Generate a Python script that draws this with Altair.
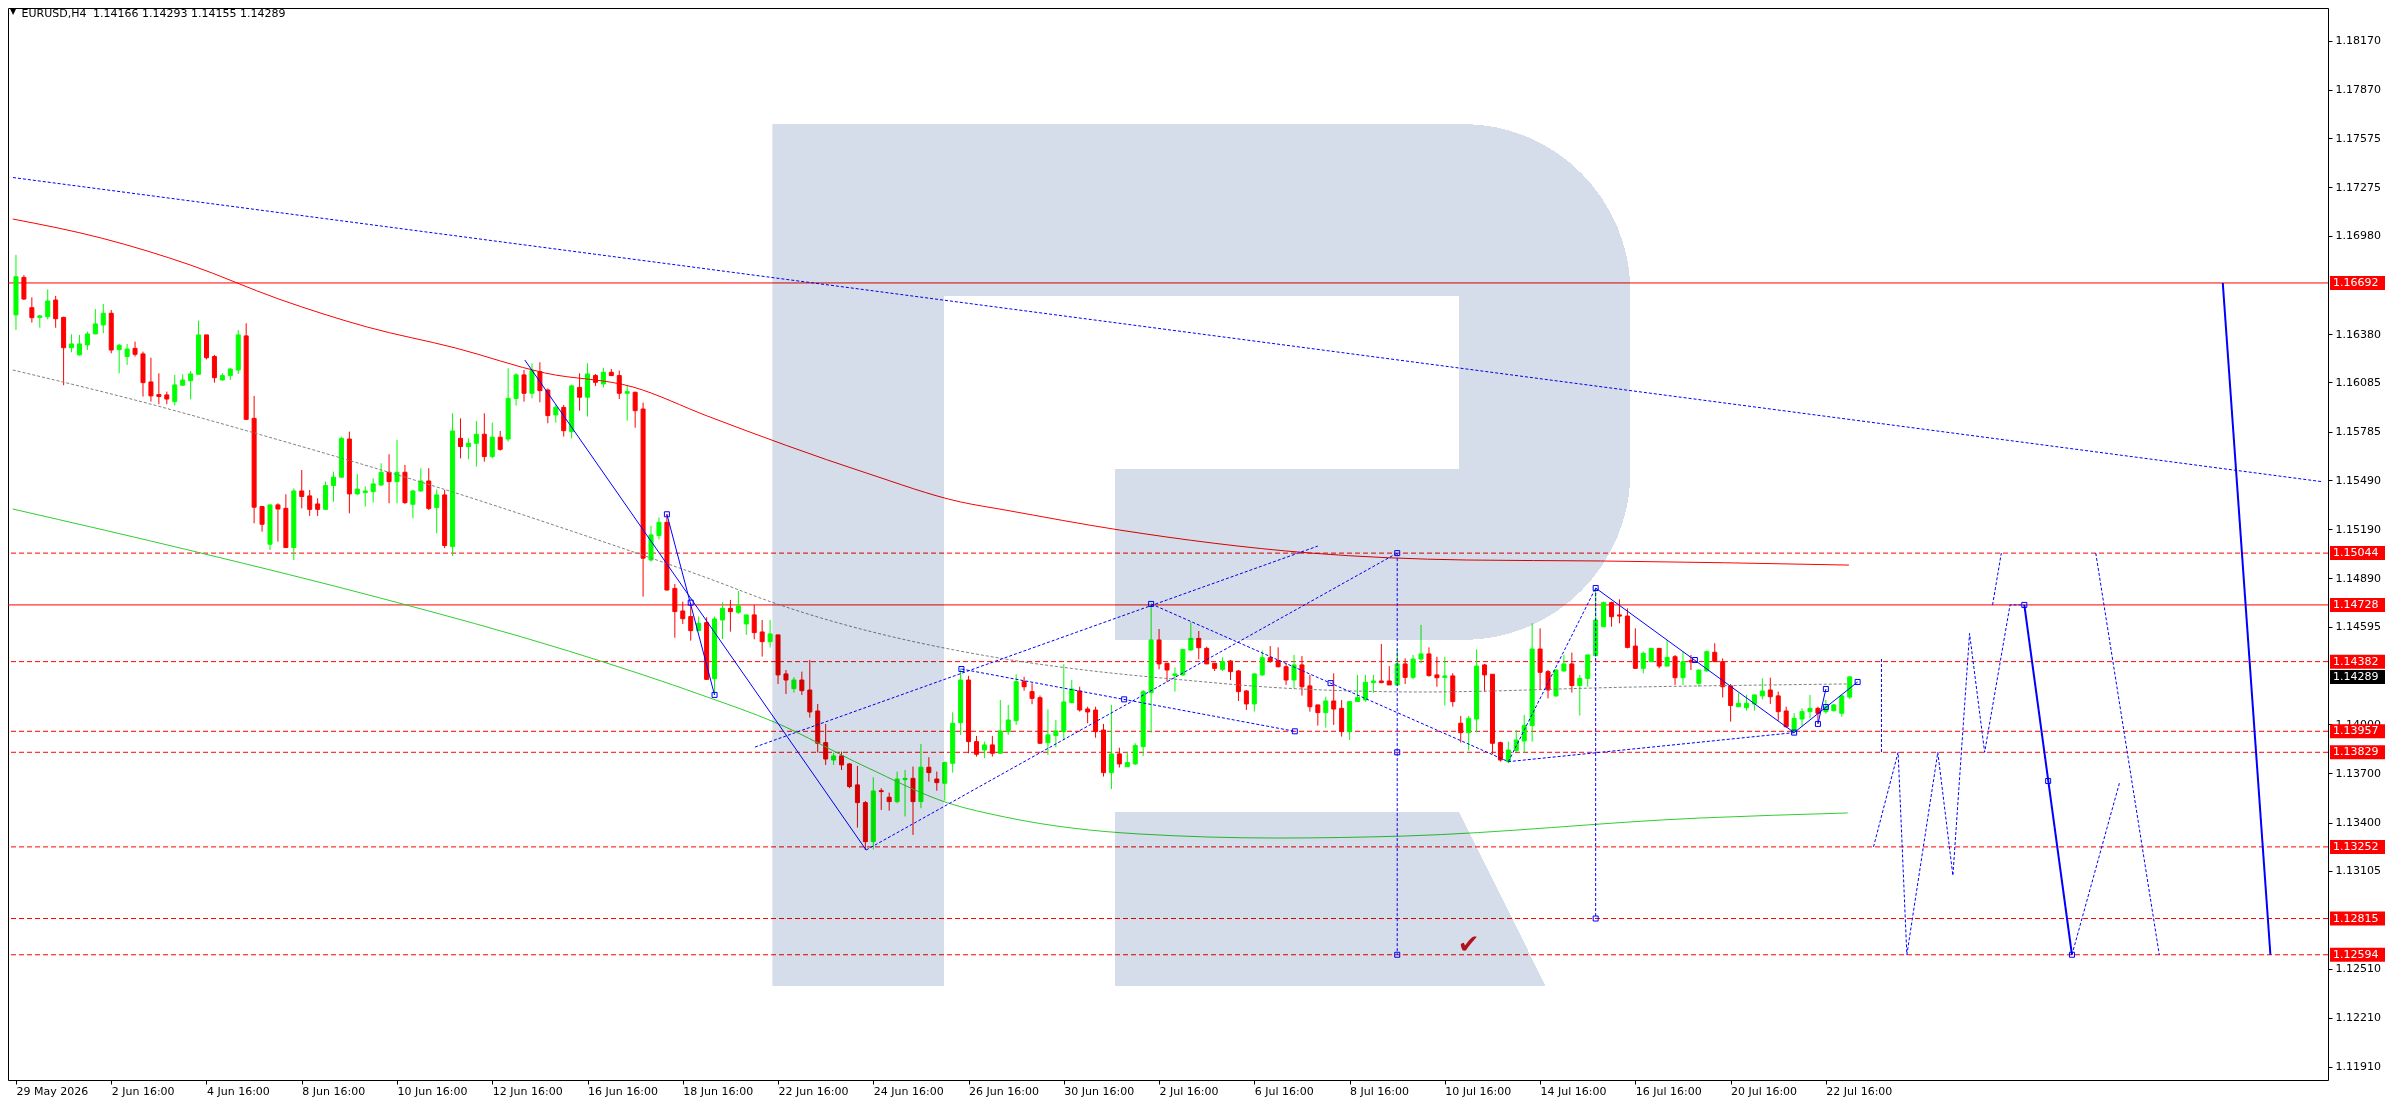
import base64
import altair as alt
import pandas as pd

# ---------------------------------------------------------------- data
opens = [
 1.16497,1.16726,1.16541,1.16482,1.16486,1.16588,1.16482,1.16297,1.16253,1.16314,
 1.16381,1.16436,1.16507,1.16285,1.16243,1.16293,1.16259,1.16088,1.16011,1.16009,
 1.15968,1.16068,1.16096,1.16135,1.16375,1.16243,1.16100,1.16127,1.16161,1.16369,
 1.15866,1.15328,1.15098,1.15338,1.15317,1.15078,1.15423,1.15393,1.15344,1.15311,
 1.15456,1.15507,1.15740,1.15405,1.15413,1.15419,1.15460,1.15537,1.15480,1.15537,
 1.15342,1.15423,1.15484,1.15322,1.15399,1.15084,1.15744,1.15694,1.15714,1.15769,
 1.15633,1.15751,1.15740,1.15988,1.16131,1.16019,1.16151,1.16039,1.15887,1.15933,
 1.15785,1.16055,1.15995,1.16127,1.16076,1.16147,1.16127,1.16019,1.16025,1.15923,
 1.15002,1.15151,1.15232,1.14829,1.14691,1.14657,1.14571,1.14620,1.14278,1.14636,
 1.14707,1.14683,1.14612,1.14667,1.14563,1.14504,1.14545,1.14307,1.14217,1.14270,
 1.14209,1.14081,1.13888,1.13782,1.13807,1.13758,1.13630,1.13522,1.13284,1.13595,
 1.13555,1.13528,1.13662,1.13670,1.13528,1.13738,1.13666,1.13640,1.13762,1.14010,
 1.14270,1.13894,1.13843,1.13874,1.13823,1.13955,1.14022,1.14260,1.14199,1.14162,
 1.13888,1.13931,1.13955,1.14132,1.14203,1.14093,1.14087,1.13965,1.13705,1.13819,
 1.13741,1.13758,1.13864,1.14193,1.14514,1.14372,1.14297,1.14301,1.14453,1.14524,
 1.14463,1.14372,1.14335,1.14386,1.14325,1.14203,1.14124,1.14301,1.14406,1.14388,
 1.14351,1.14270,1.14362,1.14234,1.14118,1.14071,1.14142,1.14097,1.13955,1.14138,
 1.14148,1.14254,1.14264,1.14264,1.14240,1.14368,1.14286,1.14398,1.14429,1.14301,
 1.14286,1.14295,1.14006,1.13949,1.14032,1.14362,1.14305,1.13888,1.13772,1.13839,
 1.13898,1.13992,1.14459,1.14321,1.14173,1.14325,1.14368,1.14236,1.14280,1.14419,
 1.14595,1.14742,1.14667,1.14660,1.14477,1.14341,1.14382,1.14463,1.14355,1.14412,
 1.14284,1.14388,1.14250,1.14325,1.14439,1.14382,1.14234,1.14107,1.14101,1.14124,
 1.14173,1.14209,1.14173,1.14081,1.13955,1.14032,1.14077,1.14097,1.14077,1.14083,
 1.14067,1.14166]
highs = [
 1.16863,1.16740,1.16604,1.16497,1.16653,1.16613,1.16486,1.16379,1.16375,1.16395,
 1.16533,1.16564,1.16527,1.16320,1.16320,1.16334,1.16273,1.16236,1.16141,1.16029,
 1.16131,1.16135,1.16155,1.16462,1.16375,1.16253,1.16141,1.16175,1.16405,1.16446,
 1.16003,1.15332,1.15338,1.15348,1.15403,1.15439,1.15551,1.15429,1.15378,1.15480,
 1.15541,1.15754,1.15785,1.15527,1.15450,1.15500,1.15592,1.15647,1.15734,1.15582,
 1.15429,1.15562,1.15562,1.15433,1.15429,1.15897,1.15866,1.15744,1.15850,1.15897,
 1.15840,1.15789,1.16171,1.16141,1.16161,1.16202,1.16208,1.16049,1.15948,1.15948,
 1.16070,1.16141,1.16202,1.16137,1.16175,1.16167,1.16157,1.16070,1.16029,1.15962,
 1.15210,1.15262,1.15281,1.14856,1.14748,1.14742,1.14657,1.14653,1.14657,1.14744,
 1.14758,1.14813,1.14667,1.14728,1.14636,1.14636,1.14545,1.14331,1.14287,1.14321,
 1.14392,1.14124,1.14002,1.13827,1.13833,1.13762,1.13746,1.13532,1.13677,1.13610,
 1.13583,1.13711,1.13721,1.13742,1.13880,1.13799,1.13711,1.13772,1.14073,1.14341,
 1.14295,1.13929,1.13894,1.13929,1.14148,1.14118,1.14305,1.14290,1.14250,1.14175,
 1.14091,1.14026,1.14366,1.14270,1.14229,1.14107,1.14107,1.14002,1.14118,1.13857,
 1.13829,1.13884,1.14209,1.14734,1.14581,1.14372,1.14347,1.14457,1.14622,1.14569,
 1.14473,1.14372,1.14408,1.14392,1.14331,1.14209,1.14311,1.14449,1.14477,1.14469,
 1.14372,1.14423,1.14416,1.14301,1.14118,1.14168,1.14311,1.14148,1.14142,1.14301,
 1.14301,1.14301,1.14490,1.14355,1.14457,1.14402,1.14423,1.14606,1.14469,1.14412,
 1.14412,1.14311,1.14051,1.14051,1.14457,1.14368,1.14305,1.13894,1.13894,1.13965,
 1.14057,1.14616,1.14585,1.14331,1.14335,1.14423,1.14437,1.14301,1.14423,1.14829,
 1.14748,1.14748,1.14762,1.14707,1.14585,1.14443,1.14463,1.14463,1.14514,1.14423,
 1.14443,1.14423,1.14331,1.14449,1.14494,1.14402,1.14246,1.14189,1.14179,1.14179,
 1.14280,1.14284,1.14199,1.14107,1.14067,1.14097,1.14179,1.14107,1.14148,1.14124,
 1.14179,1.14293]
lows = [
 1.16405,1.16588,1.16450,1.16419,1.16470,1.16419,1.16068,1.16269,1.16249,1.16283,
 1.16381,1.16385,1.16263,1.16141,1.16192,1.16243,1.15999,1.15968,1.15952,1.15952,
 1.15944,1.16066,1.15982,1.16135,1.16226,1.16084,1.16098,1.16100,1.16137,1.15856,
 1.15226,1.15175,1.15063,1.15114,1.15078,1.15002,1.15317,1.15271,1.15271,1.15307,
 1.15358,1.15505,1.15287,1.15399,1.15328,1.15352,1.15454,1.15348,1.15348,1.15344,
 1.15257,1.15419,1.15307,1.15165,1.15074,1.15027,1.15622,1.15616,1.15572,1.15602,
 1.15622,1.15669,1.15724,1.15944,1.15968,1.15988,1.15964,1.15836,1.15840,1.15755,
 1.15744,1.15913,1.15877,1.16064,1.16055,1.16125,1.15984,1.15852,1.15809,1.14779,
 1.14992,1.15128,1.14815,1.14528,1.14612,1.14510,1.14571,1.14270,1.14179,1.14520,
 1.14565,1.14673,1.14545,1.14518,1.14413,1.14468,1.14246,1.14185,1.14193,1.14179,
 1.14041,1.13827,1.13752,1.13752,1.13721,1.13610,1.13370,1.13233,1.13237,1.13477,
 1.13473,1.13518,1.13437,1.13325,1.13488,1.13650,1.13595,1.13534,1.13705,1.13935,
 1.13823,1.13803,1.13793,1.13803,1.13823,1.13935,1.13996,1.14205,1.14122,1.13880,
 1.13813,1.13860,1.13904,1.14128,1.14077,1.14006,1.13918,1.13681,1.13605,1.13736,
 1.13741,1.13752,1.13807,1.13949,1.14335,1.14260,1.14199,1.14295,1.14449,1.14396,
 1.14368,1.14325,1.14325,1.14270,1.14142,1.14087,1.14077,1.14295,1.14376,1.14347,
 1.14240,1.14219,1.14175,1.14077,1.13992,1.13979,1.13996,1.13925,1.13904,1.14138,
 1.14138,1.14193,1.14250,1.14240,1.14234,1.14246,1.14274,1.14372,1.14290,1.14229,
 1.14114,1.14107,1.13888,1.13839,1.13951,1.14199,1.13819,1.13772,1.13762,1.13833,
 1.13827,1.13894,1.14209,1.14158,1.14168,1.14321,1.14193,1.14053,1.14229,1.14412,
 1.14595,1.14595,1.14616,1.14463,1.14341,1.14311,1.14382,1.14341,1.14355,1.14240,
 1.14240,1.14331,1.14229,1.14321,1.14382,1.14164,1.14016,1.14107,1.14083,1.14083,
 1.14152,1.14124,1.14022,1.13979,1.13949,1.13985,1.14036,1.14006,1.14063,1.14077,
 1.14046,1.14155]
closes = [
 1.16730,1.16594,1.16480,1.16491,1.16582,1.16474,1.16297,1.16320,1.16320,1.16381,
 1.16442,1.16507,1.16283,1.16312,1.16289,1.16257,1.16084,1.16003,1.15999,1.15984,
 1.16070,1.16100,1.16137,1.16375,1.16236,1.16114,1.16127,1.16167,1.16375,1.15860,
 1.15324,1.15220,1.15338,1.15313,1.15078,1.15423,1.15389,1.15311,1.15311,1.15456,
 1.15507,1.15744,1.15405,1.15435,1.15423,1.15466,1.15537,1.15480,1.15537,1.15352,
 1.15423,1.15484,1.15317,1.15399,1.15090,1.15789,1.15694,1.15714,1.15769,1.15633,
 1.15751,1.15677,1.15988,1.16131,1.16019,1.16157,1.16035,1.15883,1.15933,1.15791,
 1.16064,1.15995,1.16137,1.16086,1.16147,1.16127,1.16019,1.16029,1.15913,1.15013,
 1.15155,1.15232,1.14819,1.14687,1.14644,1.14571,1.14616,1.14274,1.14642,1.14707,
 1.14687,1.14722,1.14667,1.14559,1.14504,1.14551,1.14301,1.14270,1.14270,1.14205,
 1.14075,1.13884,1.13788,1.13807,1.13752,1.13620,1.13522,1.13284,1.13593,1.13589,
 1.13528,1.13666,1.13670,1.13528,1.13738,1.13705,1.13644,1.13766,1.14006,1.14270,
 1.13894,1.13817,1.13874,1.13823,1.13959,1.14026,1.14260,1.14229,1.14158,1.13884,
 1.13935,1.13959,1.14136,1.14215,1.14087,1.14075,1.13955,1.13705,1.13819,1.13758,
 1.13766,1.13870,1.14199,1.14514,1.14368,1.14331,1.14307,1.14457,1.14524,1.14467,
 1.14368,1.14341,1.14382,1.14321,1.14199,1.14124,1.14307,1.14406,1.14382,1.14351,
 1.14270,1.14362,1.14229,1.14107,1.14071,1.14142,1.14093,1.13955,1.14138,1.14164,
 1.14256,1.14264,1.14254,1.14240,1.14368,1.14286,1.14398,1.14429,1.14297,1.14284,
 1.14295,1.14138,1.13949,1.14036,1.14355,1.14301,1.13884,1.13782,1.13843,1.13904,
 1.13992,1.14459,1.14317,1.14209,1.14331,1.14368,1.14236,1.14280,1.14423,1.14636,
 1.14742,1.14656,1.14660,1.14469,1.14341,1.14433,1.14463,1.14355,1.14408,1.14284,
 1.14382,1.14380,1.14331,1.14443,1.14382,1.14229,1.14114,1.14128,1.14128,1.14179,
 1.14203,1.14168,1.14077,1.13985,1.14036,1.14077,1.14097,1.14067,1.14107,1.14118,
 1.14173,1.14289]

x_tick_bars = [0, 12, 24, 36, 48, 60, 72, 84, 96, 108, 120, 132, 144, 156, 168, 180, 192, 204, 216, 228]
x_tick_labels = ["29 May 2026", "2 Jun 16:00", "4 Jun 16:00", "8 Jun 16:00", "10 Jun 16:00",
                 "12 Jun 16:00", "16 Jun 16:00", "18 Jun 16:00", "22 Jun 16:00", "24 Jun 16:00",
                 "26 Jun 16:00", "30 Jun 16:00", "2 Jul 16:00", "6 Jul 16:00", "8 Jul 16:00",
                 "10 Jul 16:00", "14 Jul 16:00", "16 Jul 16:00", "20 Jul 16:00", "22 Jul 16:00"]
y_ticks = [1.18170, 1.17870, 1.17575, 1.17275, 1.16980, 1.16380, 1.16085, 1.15785, 1.15490,
           1.15190, 1.14890, 1.14595, 1.14000, 1.13700, 1.13400, 1.13105, 1.12510, 1.12210, 1.11910]

red_ma_bar = [-0.4, 10.75, 22, 33.1, 44.25, 55.4, 66.6, 77.75, 87.1, 107.1, 119, 124.6, 139, 162.9, 182.75, 199.6, 230.9]
red_ma_val = [1.17082, 1.16966, 1.16801, 1.16594, 1.16423, 1.16295, 1.16143, 1.16057, 1.15880,
              1.15533, 1.15356, 1.15307, 1.15185, 1.15045, 1.15002, 1.14996, 1.14971]
green_ma_bar = [-0.4, 22.75, 45.9, 69.6, 87.1, 95.5, 107.1, 117.4, 124.6, 141.4, 158.9, 174.75, 212.1, 230.75]
green_ma_val = [1.15313, 1.15051, 1.14770, 1.14447, 1.14166, 1.14014, 1.13739, 1.13520, 1.13434,
                1.13331, 1.13306, 1.13318, 1.13428, 1.13459]
gray_ma_bar = [-0.4, 16.4, 30.9, 55.4, 69.6, 87.1, 95.5, 124.6, 134.6, 147.1, 159.6, 177.1, 203.75, 230.9]
gray_ma_val = [1.16161, 1.15960, 1.15765, 1.15411, 1.15185, 1.14892, 1.14740, 1.14398, 1.14331,
               1.14270, 1.14221, 1.14197, 1.14227, 1.14246]
trend_bar = [-0.375, 290.625]
trend_val = [1.17335, 1.15479]

solid_levels = [1.16692, 1.14728]
dash_levels = [1.15044, 1.14382, 1.13957, 1.13829, 1.13252, 1.12815, 1.12594]

solid_thin = [
    [(64.1, 1.16222), (107.1, 1.13233)],
    [(82, 1.15281), (88, 1.14179)],
    [(199, 1.14831), (224, 1.13949), (232, 1.14258)],
    [(227, 1.14002), (228, 1.14215)],
]
solid_thick = [
    [(253, 1.14728), (259, 1.12594)],
    [(278, 1.16692), (284, 1.12594)],
]
dotted = [
    [(93.1, 1.13861), (164, 1.15087)],
    [(107.1, 1.13233), (174, 1.15044)],
    [(119.1, 1.14337), (161.1, 1.13957)],
    [(143, 1.14734), (188, 1.13772), (224, 1.13949)],
    [(188, 1.13772), (199, 1.14831)],
    [(174, 1.15044), (174, 1.12594)],
    [(199, 1.14831), (199, 1.12815)],
    [(234, 1.13252), (237.1, 1.13829), (238.2, 1.12594), (242.1, 1.13829), (244, 1.13077),
     (246.1, 1.14554), (248, 1.13829), (251.2, 1.14728), (253, 1.14728)],
    [(249, 1.14728), (250.1, 1.15044)],
    [(235, 1.14398), (235, 1.13829)],
    [(259, 1.12594), (265, 1.13645)],
    [(262, 1.15044), (270, 1.12594)],
]
sq_bar = [82, 85, 88, 119.1, 139.6, 143, 161.1, 165.6, 174, 174, 174, 199, 199, 211.5,
          224, 227, 228, 228, 232, 253, 256, 259]
sq_val = [1.15281, 1.14742, 1.14179, 1.14337, 1.14152, 1.14734, 1.13957, 1.14251, 1.15044,
          1.13829, 1.12594, 1.14831, 1.12815, 1.14392, 1.13949, 1.14002, 1.14215, 1.14105,
          1.14258, 1.14728, 1.13654, 1.12594]

box_vals = [1.16692, 1.15044, 1.14728, 1.14382, 1.14289, 1.13957, 1.13829, 1.13252, 1.12815, 1.12594]
box_cols = ["#ff0000", "#ff0000", "#ff0000", "#ff0000", "#000000",
            "#ff0000", "#ff0000", "#ff0000", "#ff0000", "#ff0000"]

header_sym = "EURUSD,H4"
header_ohlc = "1.14166 1.14293 1.14155 1.14289"

# ---------------------------------------------------------------- layout / style
W, H = 2320, 1072
X_DOM = [-0.375, 290.625]
Y_DOM = [1.11830, 1.183692]
FONT = "DejaVu Sans"
GREEN, RED, BLUE = "#00ff00", "#ff0000", "#0000ff"
LOGO = "#d4dde9"

label_expr = "[" + ",".join("'%s'" % t for t in x_tick_labels) + "][round(datum.value/12)]"
XS = alt.Scale(domain=X_DOM, nice=False, zero=False)
YS = alt.Scale(domain=Y_DOM, nice=False, zero=False)
XAX = alt.Axis(values=x_tick_bars, labelExpr=label_expr, orient="bottom", tickSize=4,
               domain=False, grid=False, labelAlign="left", labelFont=FONT, labelFontSize=11,
               labelColor="black", tickColor="black", labelPadding=1, labelOverlap=False,
               labelFlush=False, title=None)
YAX = alt.Axis(values=y_ticks, format=".5f", orient="right", tickSize=4, domain=False,
               grid=False, labelFont=FONT, labelFontSize=11, labelColor="black",
               tickColor="black", labelPadding=3, labelOverlap=False, labelFlush=False, title=None)


def X(f="bar"):
    return alt.X(f + ":Q", scale=XS, axis=XAX)


def Y(f="price"):
    return alt.Y(f + ":Q", scale=YS, axis=YAX)


def seg_df(segs):
    rows = []
    for si, seg in enumerate(segs):
        for k, (b, p) in enumerate(seg):
            rows.append({"seg": si, "ord": k, "bar": b, "price": p})
    return pd.DataFrame(rows)


candles = pd.DataFrame({"bar": list(range(len(opens))), "open": opens, "high": highs,
                        "low": lows, "close": closes})
candles["dir"] = ["up" if c >= o else "down" for o, c in zip(opens, closes)]
dir_scale = alt.Scale(domain=["up", "down"], range=[GREEN, RED])

layers = []
layers.append(alt.Chart(pd.DataFrame({"price": dash_levels})).mark_rule(
    color=RED, strokeWidth=1, strokeDash=[5, 3]).encode(y=Y()))
layers.append(alt.Chart(pd.DataFrame({"price": solid_levels})).mark_rule(
    color=RED, strokeWidth=1).encode(y=Y()))

layers.append(alt.Chart(candles).mark_rule(strokeWidth=1).encode(
    x=X(), y=Y("low"), y2="high", color=alt.Color("dir:N", scale=dir_scale, legend=None)))
layers.append(alt.Chart(candles).mark_bar(size=4, strokeWidth=1).encode(
    x=X(), y=Y("open"), y2="close",
    color=alt.Color("dir:N", scale=dir_scale, legend=None),
    stroke=alt.Stroke("dir:N", scale=dir_scale, legend=None)))

layers.append(alt.Chart(pd.DataFrame({"bar": trend_bar, "price": trend_val})).mark_line(
    color=BLUE, strokeWidth=1, strokeDash=[3, 2]).encode(x=X(), y=Y()))
layers.append(alt.Chart(pd.DataFrame({"bar": gray_ma_bar, "price": gray_ma_val})).mark_line(
    color="#808080", strokeWidth=1, strokeDash=[3, 2], interpolate="monotone").encode(x=X(), y=Y()))
layers.append(alt.Chart(pd.DataFrame({"bar": red_ma_bar, "price": red_ma_val})).mark_line(
    color=RED, strokeWidth=1, interpolate="monotone").encode(x=X(), y=Y()))
layers.append(alt.Chart(pd.DataFrame({"bar": green_ma_bar, "price": green_ma_val})).mark_line(
    color="#32cd32", strokeWidth=1, interpolate="monotone").encode(x=X(), y=Y()))

layers.append(alt.Chart(seg_df(dotted)).mark_line(
    color=BLUE, strokeWidth=1, strokeDash=[3, 2]).encode(
    x=X(), y=Y(), detail="seg:N", order="ord:Q"))
layers.append(alt.Chart(seg_df(solid_thin)).mark_line(color=BLUE, strokeWidth=1).encode(
    x=X(), y=Y(), detail="seg:N", order="ord:Q"))
layers.append(alt.Chart(seg_df(solid_thick)).mark_line(color=BLUE, strokeWidth=2).encode(
    x=X(), y=Y(), detail="seg:N", order="ord:Q"))
layers.append(alt.Chart(pd.DataFrame({"bar": sq_bar, "price": sq_val})).mark_square(
    filled=False, size=25, color=BLUE, strokeWidth=1, opacity=1).encode(x=X(), y=Y()))

layers.append(alt.Chart(pd.DataFrame({"bar": [183], "price": [1.12654], "t": ["\u2714"]})).mark_text(
    font=FONT, fontSize=26, color="#d7141f", baseline="middle", align="center").encode(
    x=X(), y=Y(), text="t:N"))

# header
layers.append(alt.Chart(pd.DataFrame({"t": ["\u25bc"]})).mark_text(
    font=FONT, fontSize=8, color="black", align="left", baseline="alphabetic").encode(
    x=alt.value(2), y=alt.value(6), text="t:N"))
layers.append(alt.Chart(pd.DataFrame({"t": [header_sym]})).mark_text(
    font=FONT, fontSize=11, color="black", align="left", baseline="alphabetic").encode(
    x=alt.value(13.5), y=alt.value(8.5), text="t:N"))
layers.append(alt.Chart(pd.DataFrame({"t": [header_ohlc]})).mark_text(
    font=FONT, fontSize=11, color="black", align="left", baseline="alphabetic").encode(
    x=alt.value(85), y=alt.value(8.5), text="t:N"))

# price boxes on the right axis
boxes = pd.DataFrame({"price": box_vals, "bg": box_cols,
                      "label": ["%.5f" % v for v in box_vals]})
layers.append(alt.Chart(boxes).mark_tick(orient="horizontal", size=55, thickness=14, opacity=1).encode(
    x=alt.value(W + 29.5), y=Y(), color=alt.Color("bg:N", scale=None)))
layers.append(alt.Chart(boxes).mark_text(font=FONT, fontSize=11, color="white", align="left",
                                         baseline="middle").encode(
    x=alt.value(W + 5), y=Y(), text="label:N"))

# watermark logo (one seamless shape), multiplied over the chart
svg = ('<svg xmlns="http://www.w3.org/2000/svg" viewBox="0 0 861 862" preserveAspectRatio="none">'
       '<g fill="%s" shape-rendering="crispEdges">'
       '<path d="M0,0 H693 A168,168 0 0 1 861,168 V348 A168,168 0 0 1 693,516 H344 V345 '
       'H689 V172 H172 V862 H0 Z"/>'
       '<path d="M344,688 H689 L776,862 H344 Z"/>'
       '</g></svg>') % LOGO
logo_url = "data:image/svg+xml;base64," + base64.b64encode(svg.encode()).decode()
layers.append(alt.Chart(pd.DataFrame({"a": [0]})).mark_image(
    width=858, height=862, aspect=False, align="left", baseline="top", blend="multiply").encode(
    x=alt.value(764.4), y=alt.value(116), url=alt.value(logo_url)))

chart = alt.layer(*layers).properties(
    width=W, height=H,
    autosize=alt.AutoSizeParams(type="none"),
    padding={"left": 0, "top": 0, "right": 58, "bottom": 18},
    background="white",
).configure_view(stroke="black", strokeWidth=1)

chart.save("out.html", embed_options={"renderer": "svg", "actions": False})
